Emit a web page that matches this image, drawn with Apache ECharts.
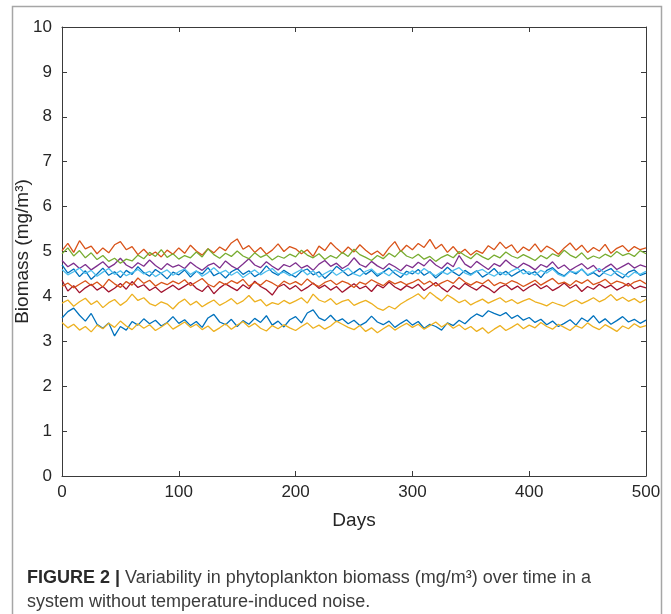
<!DOCTYPE html>
<html>
<head>
    <meta charset="utf-8">
    <title>Phytoplankton biomass</title>
    <script src="https://cdn.jsdelivr.net/npm/echarts@6/dist/echarts.min.js"></script>
    <style>
        body { margin: 0; background: #fff; }
    </style>
</head>
<body>
    <div id="main" style="width: 671px;height:614px;"></div>

    <script type="text/javascript">
        // days sampled every 5 days, 0..500
        var days = [];
        for (var d = 0; d <= 500; d += 5) days.push(d);

        var yTicks = ['0', '1', '2', '3', '4', '5', '6', '7', '8', '9', '10'];
        var xTicks = ['0', '100', '200', '300', '400', '500'];

        // values (mg/m3)
        var blue1 = [4.70, 4.52, 4.61, 4.44, 4.57, 4.38, 4.50, 4.63, 4.47, 4.55, 4.42, 4.58, 4.49, 4.66, 4.53, 4.45, 4.60, 4.51, 4.39, 4.54,
            4.48, 4.59, 4.43, 4.56, 4.50, 4.64, 4.46, 4.53, 4.41, 4.55, 4.62, 4.49, 4.57, 4.44, 4.52, 4.68, 4.54, 4.47, 4.58, 4.50,
            4.43, 4.56, 4.61, 4.48, 4.55, 4.40, 4.52, 4.67, 4.57, 4.46, 4.53, 4.62, 4.49, 4.58, 4.45, 4.54, 4.63, 4.51, 4.42, 4.56,
            4.50, 4.60, 4.47, 4.55, 4.41, 4.52, 4.65, 4.54, 4.46, 4.58, 4.49, 4.57, 4.43, 4.51, 4.62, 4.48, 4.56, 4.45, 4.53, 4.60,
            4.49, 4.55, 4.42, 4.58, 4.64, 4.52, 4.46, 4.57, 4.50, 4.61, 4.47, 4.53, 4.44, 4.56, 4.62, 4.49, 4.41, 4.54, 4.59, 4.47,
            4.52];
        var orange1 = [5.02, 5.18, 4.98, 5.24, 5.06, 5.12, 4.95, 5.08, 4.97, 5.15, 5.22, 5.04, 5.11, 4.93, 5.05, 4.91, 4.99, 4.88, 5.03, 4.94,
            5.08, 4.96, 5.14, 5.01, 4.92, 5.06, 4.97, 5.10, 5.02, 5.19, 5.28, 5.05, 5.13, 4.98, 5.09, 4.94, 5.03, 5.17, 5.00, 5.11,
            5.06, 4.95, 5.04, 4.89, 5.12, 5.02, 5.20, 5.07, 4.96, 5.10, 4.99, 5.15, 5.03, 4.93, 5.01, 4.90, 5.08, 5.22, 5.00, 5.14,
            5.04, 5.18, 5.09, 5.27, 5.06, 5.16, 4.98, 5.11, 4.95, 5.05, 4.92, 5.02, 4.96, 5.13, 5.04, 5.21, 5.07, 5.15, 4.97, 5.10,
            5.02, 5.17, 4.99, 5.12, 5.05, 4.94, 5.08, 5.19, 5.03, 5.14, 4.98, 5.09, 5.01, 5.16, 4.96, 5.07, 5.13, 5.00, 5.11, 5.04,
            5.08];
        var yellow1 = [3.85, 3.92, 3.78, 3.88, 3.96, 3.82, 3.90, 3.75, 3.86, 3.93, 3.80, 3.89, 4.05, 3.91, 3.97, 3.84, 3.79, 3.88, 3.83, 3.72,
            3.86, 3.94, 3.81, 3.89, 3.77, 3.85, 3.92, 3.80, 3.87, 3.95, 3.83, 3.90, 4.02, 3.88, 3.93, 3.79, 3.86, 3.82, 3.91, 3.84,
            3.90, 3.97, 3.85, 4.05, 3.92, 3.87, 3.95, 3.82, 3.89, 3.93, 3.80, 3.86, 3.91, 3.84, 3.74, 3.69, 3.78, 3.72, 3.83, 3.91,
            3.98, 4.06, 3.94, 4.09, 3.99, 3.90, 4.03, 3.95, 3.86, 3.92, 3.81, 3.88, 3.94, 3.85, 3.91, 3.97, 3.87, 3.93, 3.84, 3.90,
            3.95, 3.88, 3.84, 3.79, 3.87, 3.82, 3.78, 3.86, 3.92, 3.84, 3.90, 3.97, 3.88, 3.94, 4.04, 3.91, 3.98, 3.89, 3.95, 3.86,
            3.93];
        var purple = [4.80, 4.66, 4.74, 4.62, 4.71, 4.59, 4.68, 4.77, 4.64, 4.72, 4.85, 4.70, 4.63, 4.75, 4.67, 4.81, 4.69, 4.60, 4.73, 4.65,
            4.70, 4.62, 4.76, 4.66, 4.58, 4.69, 4.74, 4.63, 4.79, 4.68, 4.61, 4.72, 4.84, 4.70, 4.64, 4.77, 4.67, 4.59, 4.71, 4.66,
            4.75, 4.63, 4.69, 4.58, 4.72, 4.80, 4.67, 4.74, 4.62, 4.70, 4.86, 4.71, 4.65, 4.78, 4.68, 4.61, 4.73, 4.66, 4.57, 4.70,
            4.64, 4.76, 4.68, 4.82, 4.70, 4.62, 4.75, 4.66, 4.91, 4.72, 4.64, 4.78, 4.69, 4.60, 4.73, 4.67, 4.81, 4.70, 4.63, 4.74,
            4.68, 4.59, 4.71, 4.65, 4.77, 4.62, 4.70, 4.58, 4.66, 4.73, 4.61, 4.69, 4.55, 4.64, 4.72, 4.60, 4.67, 4.74, 4.63, 4.70,
            4.66];
        var green = [4.95, 5.08, 4.90, 5.02, 4.86, 4.97, 4.82, 4.91, 4.78, 4.85, 4.74, 4.83, 4.79, 4.92, 4.84, 4.98, 4.89, 5.04, 4.87, 4.95,
            4.83, 4.91, 4.86, 4.99, 4.88, 5.06, 4.93, 4.85, 4.96, 4.89, 5.01, 4.90, 4.84, 4.97, 4.87, 4.93, 4.81, 4.90, 4.85, 4.94,
            4.88, 5.03, 4.92, 4.86, 4.95, 4.82, 4.91, 4.85, 4.98, 4.89, 5.05, 4.93, 4.87, 4.80, 4.91, 4.84, 4.96, 4.88, 5.02, 4.90,
            4.85, 4.94, 4.83, 4.89, 4.78, 4.87, 4.93, 4.86, 5.00, 4.91, 4.84, 4.96, 4.88, 4.82, 4.92, 4.86, 4.99, 4.90, 4.85, 4.93,
            4.87, 4.80, 4.91, 4.84, 4.95, 4.89, 5.03, 4.92, 4.86, 4.97, 4.83, 4.90, 4.85, 4.94, 4.88, 5.00, 4.91, 4.96, 4.89, 5.02,
            4.95];
        var lightBlue = [4.60, 4.48, 4.55, 4.63, 4.51, 4.58, 4.45, 4.54, 4.62, 4.49, 4.57, 4.46, 4.53, 4.60, 4.50, 4.56, 4.44, 4.52, 4.59, 4.47,
            4.55, 4.61, 4.49, 4.57, 4.45, 4.53, 4.64, 4.52, 4.58, 4.47, 4.55, 4.42, 4.51, 4.59, 4.48, 4.56, 4.62, 4.50, 4.54, 4.46,
            4.53, 4.60, 4.48, 4.57, 4.43, 4.51, 4.58, 4.47, 4.55, 4.63, 4.50, 4.45, 4.56, 4.61, 4.49, 4.54, 4.46, 4.59, 4.52, 4.48,
            4.57, 4.50, 4.62, 4.53, 4.46, 4.55, 4.49, 4.58, 4.64, 4.52, 4.47, 4.56, 4.60, 4.51, 4.45, 4.54, 4.48, 4.57, 4.63, 4.50,
            4.55, 4.47, 4.58, 4.52, 4.61, 4.49, 4.44, 4.56, 4.53, 4.60, 4.48, 4.55, 4.62, 4.51, 4.46, 4.57, 4.50, 4.43, 4.54, 4.49,
            4.56];
        var darkRed = [4.36, 4.12, 4.24, 4.08, 4.19, 4.27, 4.14, 4.22, 4.10, 4.18, 4.29, 4.16, 4.33, 4.20, 4.26, 4.13, 4.21, 4.09, 4.17, 4.25,
            4.15, 4.23, 4.31, 4.18, 4.11, 4.24, 4.06, 4.19, 4.28, 4.20, 4.13, 4.26, 4.17, 4.34, 4.22, 4.15, 4.03, 4.21, 4.27, 4.16,
            4.24, 4.12, 4.20, 4.30, 4.18, 4.25, 4.14, 4.22, 4.09, 4.19, 4.28, 4.17, 4.23, 4.11, 4.26, 4.19, 4.32, 4.21, 4.14, 4.24,
            4.18, 4.27, 4.13, 4.22, 4.31, 4.19, 4.10, 4.24, 4.16, 4.29, 4.21, 4.14, 4.25, 4.18, 4.08, 4.20, 4.26, 4.15, 4.23, 4.12,
            4.21, 4.28, 4.17, 4.24, 4.13, 4.20, 4.30, 4.18, 4.26, 4.11, 4.22, 4.16, 4.27, 4.19, 4.25, 4.14, 4.21, 4.29, 4.17, 4.23,
            4.19];
        var blue2 = [3.52, 3.66, 3.74, 3.58, 3.45, 3.62, 3.38, 3.29, 3.41, 3.12, 3.33, 3.25, 3.44, 3.36, 3.50, 3.39, 3.47, 3.34, 3.42, 3.55,
            3.40, 3.48, 3.35, 3.44, 3.31, 3.52, 3.60, 3.43, 3.37, 3.49, 3.33, 3.46, 3.38, 3.51, 3.42, 3.57, 3.36, 3.45, 3.32, 3.48,
            3.55, 3.41, 3.63, 3.70, 3.52, 3.46, 3.58, 3.44, 3.50, 3.39, 3.47, 3.35, 3.42, 3.56, 3.43, 3.37, 3.45, 3.31, 3.40, 3.48,
            3.36, 3.44, 3.29, 3.38, 3.33, 3.25, 3.41, 3.35, 3.47, 3.39, 3.52, 3.61, 3.55, 3.68, 3.62, 3.57, 3.64, 3.51, 3.58, 3.47,
            3.53, 3.42, 3.49, 3.37, 3.45, 3.33, 3.40, 3.48, 3.36, 3.52, 3.44, 3.57, 3.41, 3.50, 3.38, 3.46, 3.55, 3.43, 3.49, 3.40,
            3.47];
        var orange2 = [4.22, 4.30, 4.19, 4.27, 4.35, 4.24, 4.32, 4.21, 4.38, 4.28, 4.20, 4.33, 4.25, 4.41, 4.29, 4.36, 4.23, 4.31, 4.26, 4.34,
            4.28, 4.37, 4.24, 4.32, 4.40, 4.27, 4.21, 4.33, 4.26, 4.35, 4.29, 4.38, 4.23, 4.31, 4.25, 4.36, 4.30, 4.22, 4.34, 4.27,
            4.33, 4.25, 4.39, 4.28, 4.22, 4.31, 4.36, 4.26, 4.34, 4.29, 4.20, 4.32, 4.27, 4.37, 4.30, 4.24, 4.35, 4.28, 4.33, 4.26,
            4.31, 4.38, 4.27, 4.34, 4.23, 4.30, 4.36, 4.29, 4.42, 4.32, 4.25, 4.33, 4.28, 4.37, 4.24, 4.31, 4.27, 4.35, 4.30, 4.22,
            4.29, 4.36, 4.25, 4.33, 4.40, 4.28, 4.32, 4.24, 4.35, 4.29, 4.37, 4.26, 4.31, 4.38, 4.27, 4.34, 4.30, 4.23, 4.32, 4.36,
            4.28];
        var yellow2 = [3.42, 3.30, 3.38, 3.25, 3.33, 3.21, 3.36, 3.28, 3.40, 3.31, 3.45, 3.34, 3.26, 3.39, 3.29, 3.37, 3.24, 3.32, 3.41, 3.27,
            3.35, 3.43, 3.31, 3.38, 3.26, 3.34, 3.22, 3.30, 3.39, 3.27, 3.36, 3.44, 3.32, 3.40, 3.29, 3.23, 3.35, 3.28, 3.37, 3.30,
            3.24, 3.33, 3.41, 3.29, 3.36, 3.27, 3.34, 3.45, 3.38, 3.31, 3.26, 3.35, 3.22, 3.30, 3.19, 3.28, 3.36, 3.25, 3.33, 3.40,
            3.31, 3.38, 3.27, 3.35, 3.43, 3.32, 3.40, 3.29, 3.37, 3.26, 3.33, 3.22, 3.30, 3.18, 3.27, 3.35, 3.24, 3.31, 3.39, 3.28,
            3.36, 3.30, 3.42, 3.33, 3.27, 3.38, 3.31, 3.24, 3.35, 3.29, 3.41, 3.32, 3.26, 3.37, 3.30, 3.22, 3.34, 3.28, 3.39, 3.31,
            3.35];

        var lines = [blue1, orange1, yellow1, purple, green, lightBlue, darkRed, blue2, orange2, yellow2];
        var colors = ['#0072BD', '#D95319', '#EDB120', '#7E2F8E', '#77AC30', '#4DBEEE', '#A2142F', '#0072BD', '#D95319', '#EDB120'];

        var dom = document.getElementById('main');
        var myChart = echarts.init(dom, null, { renderer: 'canvas' });

        var axisColor = '#3a3a3a';
        var font = 'Liberation Sans, Arial, Helvetica, sans-serif';

        function pair(values) {
            return values.map(function (v, i) { return [days[i], v]; });
        }

        var option = {
            animation: false,
            backgroundColor: '#fff',
            textStyle: { fontFamily: font },
            grid: { left: 62, right: 25, top: 27, bottom: 138, containLabel: false, outerBoundsMode: 'none' },
            xAxis: [{
                type: 'value', min: 0, max: 500, interval: 100,
                name: 'Days', nameLocation: 'middle', nameGap: 35,
                nameTextStyle: { fontSize: 19, color: '#262626', fontFamily: font },
                axisLine: { onZero: false, lineStyle: { color: axisColor, width: 1 } },
                axisTick: { inside: true, length: 5, lineStyle: { color: axisColor } },
                axisLabel: {
                    margin: 8, fontSize: 17, color: '#262626', fontFamily: font,
                    formatter: function (v) { return xTicks[v / 100]; }
                },
                splitLine: { show: false }
            }, {
                type: 'value', min: 0, max: 500, interval: 100, position: 'top',
                axisLine: { onZero: false, lineStyle: { color: axisColor, width: 1 } },
                axisTick: { inside: true, length: 5, lineStyle: { color: axisColor } },
                axisLabel: { show: false },
                splitLine: { show: false }
            }],
            yAxis: [{
                type: 'value', min: 0, max: 10, interval: 1,
                name: 'Biomass (mg/m³)', nameLocation: 'middle', nameGap: 30, nameRotate: 90,
                nameMoveOverlap: false,
                nameTextStyle: { fontSize: 19, color: '#262626', fontFamily: font },
                axisLine: { onZero: false, lineStyle: { color: axisColor, width: 1 } },
                axisTick: { inside: true, length: 5, lineStyle: { color: axisColor } },
                axisLabel: {
                    margin: 10, fontSize: 17, color: '#262626', fontFamily: font,
                    formatter: function (v) { return yTicks[v]; }
                },
                splitLine: { show: false }
            }, {
                type: 'value', min: 0, max: 10, interval: 1, position: 'right',
                axisLine: { onZero: false, lineStyle: { color: axisColor, width: 1 } },
                axisTick: { inside: true, length: 5, lineStyle: { color: axisColor } },
                axisLabel: { show: false },
                splitLine: { show: false }
            }],
            series: lines.map(function (vals, k) {
                return {
                    type: 'line',
                    data: pair(vals),
                    showSymbol: false,
                    symbol: 'none',
                    lineStyle: { color: colors[k], width: 1.3 },
                    itemStyle: { color: colors[k] },
                    z: 2 + k
                };
            }),
            graphic: [{
                type: 'rect',
                shape: { x: 12.5, y: 6.5, width: 649, height: 640 },
                style: { fill: 'none', stroke: '#a6a6a6', lineWidth: 1.5 },
                silent: true,
                z: 100
            }, {
                type: 'text',
                left: 27,
                top: 569,
                style: {
                    text: '{b|FIGURE 2 |} Variability in phytoplankton biomass (mg/m³) over time in a',
                    font: '18px ' + font,
                    fill: '#3c3c3c',
                    rich: {
                        b: { fontWeight: 'bold', fontSize: 18, fill: '#2a2a2a', fontFamily: font }
                    }
                }
            }, {
                type: 'text',
                left: 27,
                top: 593,
                style: {
                    text: 'system without temperature-induced noise.',
                    font: '18px ' + font,
                    fill: '#3c3c3c'
                }
            }]
        };

        myChart.setOption(option, true);
    </script>
</body>
</html>
